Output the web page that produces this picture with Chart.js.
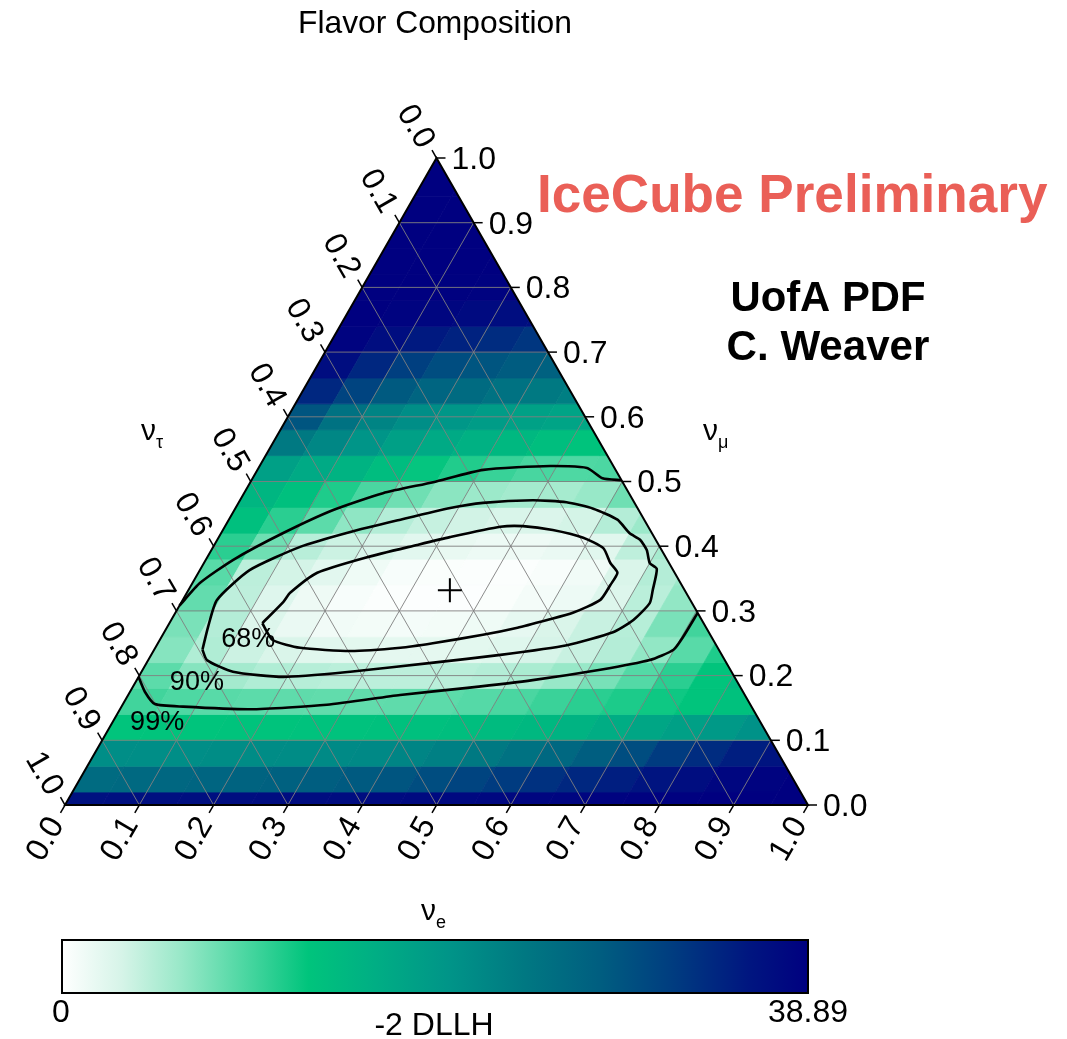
<!DOCTYPE html>
<html>
<head>
<meta charset="utf-8">
<title>Flavor Composition</title>
<script src="https://cdn.jsdelivr.net/npm/chart.js@4.4.0/dist/chart.umd.min.js"></script>
<style>
    html, body { margin: 0; padding: 0; background: #ffffff; }
    #chartWrap { position: relative; width: 1067px; height: 1039px; }
</style>
</head>
<body>
<div id="chartWrap"><canvas id="flavorChart"></canvas></div>
<script>
// nu_mu row centres of the heat map (band height 0.04), nu_e bins of 0.05
const muRows = [0.00, 0.04, 0.08, 0.12, 0.16, 0.20, 0.24, 0.28, 0.32, 0.36, 0.40, 0.44, 0.48,
    0.52, 0.56, 0.60, 0.64, 0.68, 0.72, 0.76, 0.80, 0.84, 0.88, 0.92, 0.96, 1.00];
const eBinWidth = 0.05;

// -2 DLLH per row, one value per nu_e bin (left to right)
const dllhMu00 = [36.5, 36.6, 36.7, 36.8, 36.9, 37.0, 37.1, 37.2, 37.3, 37.5, 37.6, 37.8, 38.0, 38.2, 38.4, 38.6, 38.8, 38.9, 38.9, 38.9];
const dllhMu04 = [26.0, 26.3, 26.6, 26.9, 27.2, 27.6, 28.0, 28.5, 29.0, 30.0, 31.0, 32.0, 33.0, 34.0, 35.0, 36.0, 37.0, 38.0, 38.5, 38.9];
const dllhMu08 = [21.0, 21.0, 21.0, 21.2, 21.3, 21.4, 21.6, 21.8, 22.3, 23.0, 24.0, 25.0, 26.5, 28.0, 30.0, 32.0, 33.5, 35.0, 36.0];
const dllhMu12 = [12.8, 12.8, 12.9, 13.0, 13.0, 13.1, 13.2, 13.3, 13.5, 13.8, 14.2, 14.8, 15.5, 16.5, 17.5, 18.5, 19.5, 20.5];
const dllhMu16 = [10.0, 9.4, 9.0, 8.8, 8.7, 8.6, 8.6, 8.7, 8.8, 9.1, 9.6, 10.3, 11.0, 11.6, 12.2, 12.8, 13.3, 13.8];
const dllhMu20 = [8.8, 7.0, 5.6, 5.0, 4.7, 4.5, 4.4, 4.4, 4.5, 4.8, 5.3, 6.2, 7.6, 9.2, 11.0, 12.8, 14.5];
const dllhMu24 = [7.0, 5.0, 3.6, 2.8, 2.3, 2.1, 2.0, 2.0, 2.1, 2.4, 3.0, 3.8, 4.8, 6.5, 9.0, 11.5];
const dllhMu28 = [7.5, 4.8, 2.6, 1.6, 1.1, 0.9, 0.8, 0.9, 1.2, 1.9, 2.8, 3.8, 4.7, 7.5, 10.0];
const dllhMu32 = [8.5, 4.3, 2.5, 1.3, 0.6, 0.3, 0.2, 0.2, 0.4, 0.8, 1.4, 2.6, 4.5, 6.5];
const dllhMu36 = [9.0, 4.4, 3.2, 2.2, 1.2, 0.6, 0.4, 0.3, 0.3, 0.5, 1.1, 2.8, 4.8, 6.0];
const dllhMu40 = [11.0, 8.0, 4.6, 3.6, 2.9, 2.2, 1.7, 1.4, 1.3, 1.6, 2.3, 4.3, 5.5];
const dllhMu44 = [13.5, 11.0, 8.8, 6.6, 4.8, 3.9, 3.3, 2.9, 2.7, 3.2, 4.8, 6.0];
const dllhMu48 = [15.0, 13.5, 11.5, 9.6, 8.0, 6.8, 6.0, 5.6, 5.5, 6.2, 8.0];
const dllhMu52 = [18.5, 17.0, 15.5, 14.0, 12.6, 11.4, 10.4, 9.7, 9.4, 9.5, 10.0];
const dllhMu56 = [24.0, 22.0, 20.0, 18.5, 17.0, 15.8, 14.7, 13.8, 13.0, 12.5];
const dllhMu60 = [29.0, 25.0, 22.5, 21.0, 19.8, 19.0, 18.3, 17.8, 17.3];
const dllhMu64 = [34.0, 31.0, 28.5, 27.0, 26.0, 25.0, 24.0, 23.2];
const dllhMu68 = [37.0, 34.0, 31.5, 30.0, 29.0, 28.2, 27.5];
const dllhMu72 = [38.5, 37.0, 35.5, 34.5, 33.5, 32.5];
const dllhMu76 = [38.9, 38.5, 38.0, 37.5, 37.0, 36.8];
const dllhMu80 = [38.9, 38.9, 38.8, 38.6, 38.5];
const dllhMu84 = [38.9, 38.9, 38.9, 38.9];
const dllhMu88 = [38.9, 38.9, 38.9];
const dllhMu92 = [38.9, 38.9];
const dllhMu96 = [38.9, 38.9];
const dllhMu100 = [38.9];
const dllhRows = [dllhMu00, dllhMu04, dllhMu08, dllhMu12, dllhMu16, dllhMu20, dllhMu24, dllhMu28,
    dllhMu32, dllhMu36, dllhMu40, dllhMu44, dllhMu48, dllhMu52, dllhMu56, dllhMu60, dllhMu64,
    dllhMu68, dllhMu72, dllhMu76, dllhMu80, dllhMu84, dllhMu88, dllhMu92, dllhMu96, dllhMu100];
const dllhMin = 0;
const dllhMax = 38.89;

// contours, as (nu_e, nu_mu) pairs
const contour68E = [0.125, 0.137, 0.139, 0.160, 0.215, 0.273, 0.311, 0.371, 0.401, 0.444, 0.491, 0.526, 0.547, 0.564, 0.564, 0.562, 0.535, 0.506, 0.472, 0.431, 0.370, 0.330, 0.265, 0.195, 0.152, 0.125];
const contour68Mu = [0.281, 0.314, 0.328, 0.359, 0.383, 0.402, 0.414, 0.430, 0.431, 0.425, 0.413, 0.397, 0.374, 0.359, 0.340, 0.317, 0.297, 0.286, 0.274, 0.263, 0.250, 0.243, 0.238, 0.243, 0.255, 0.281];
const contour90E = [0.065, 0.055, 0.046, 0.067, 0.117, 0.173, 0.231, 0.289, 0.329, 0.394, 0.441, 0.482, 0.523, 0.550, 0.569, 0.586, 0.600, 0.614, 0.625, 0.631, 0.622, 0.604, 0.552, 0.470, 0.386, 0.281, 0.195, 0.123, 0.079, 0.065];
const contour90Mu = [0.240, 0.275, 0.317, 0.363, 0.399, 0.422, 0.441, 0.459, 0.467, 0.471, 0.468, 0.458, 0.441, 0.420, 0.410, 0.394, 0.374, 0.365, 0.332, 0.312, 0.286, 0.267, 0.247, 0.232, 0.220, 0.206, 0.198, 0.206, 0.224, 0.240];
const contour99UpperE = [0.000, 0.010, 0.037, 0.083, 0.133, 0.187, 0.246, 0.304, 0.391, 0.442, 0.471, 0.498];
const contour99UpperMu = [0.308, 0.343, 0.379, 0.420, 0.456, 0.482, 0.499, 0.518, 0.524, 0.521, 0.505, 0.502];
const contour99LowerE = [0.703, 0.702, 0.699, 0.675, 0.616, 0.533, 0.451, 0.366, 0.275, 0.175, 0.083, 0.043, 0.020, 0.000];
const contour99LowerMu = [0.297, 0.260, 0.240, 0.224, 0.209, 0.193, 0.181, 0.170, 0.155, 0.148, 0.152, 0.156, 0.175, 0.198];
const contourLabels = ['68%', '90%', '99%'];
const contourLabelE = [0.119, 0.083, 0.060];
const contourLabelMu = [0.255, 0.189, 0.128];

const bestFitE = [0.352];
const bestFitMu = [0.332];

const tickValues = [0.0, 0.1, 0.2, 0.3, 0.4, 0.5, 0.6, 0.7, 0.8, 0.9, 1.0];
const tickLabels = ['0.0', '0.1', '0.2', '0.3', '0.4', '0.5', '0.6', '0.7', '0.8', '0.9', '1.0'];

const H = Math.sqrt(3) / 2;
const FONT = "'Liberation Sans', Arial, Helvetica, sans-serif";

const cmapStops = [
    [0.00, [255, 255, 255]],
    [0.08, [214, 244, 232]],
    [0.16, [152, 232, 200]],
    [0.24, [80, 216, 164]],
    [0.33, [0, 196, 124]],
    [0.42, [0, 174, 132]],
    [0.52, [0, 148, 136]],
    [0.62, [0, 120, 130]],
    [0.72, [0, 94, 128]],
    [0.82, [0, 60, 128]],
    [0.92, [0, 22, 128]],
    [1.00, [0, 0, 128]]
];

function cmapColor(t) {
    t = Math.max(0, Math.min(1, t));
    for (let i = 1; i < cmapStops.length; i++) {
        const a = cmapStops[i - 1], b = cmapStops[i];
        if (t <= b[0]) {
            const f = (t - a[0]) / (b[0] - a[0]);
            const c = a[1].map(function(v, j) { return Math.round(v + (b[1][j] - v) * f); });
            return 'rgb(' + c.join(',') + ')';
        }
    }
    return 'rgb(0,0,128)';
}

function ternaryPoints(eList, muList) {
    return eList.map(function(e, i) {
        return { x: e + muList[i] / 2, y: muList[i] * H };
    });
}

function fitFont(ctx, text, weight, width) {
    ctx.font = weight + ' 100px ' + FONT;
    const size = 100 * width / ctx.measureText(text).width;
    return weight + ' ' + size.toFixed(1) + 'px ' + FONT;
}

const ternaryPlugin = {
    id: 'ternaryPlugin',
    beforeDatasetsDraw: function(chart) {
        const ctx = chart.ctx;
        const xs = chart.scales.x, ys = chart.scales.y;
        const px = function(e, mu) {
            return [xs.getPixelForValue(e + mu / 2), ys.getPixelForValue(mu * H)];
        };
        const a = px(0, 0), b = px(1, 0), c = px(0, 1);

        ctx.save();
        ctx.beginPath();
        ctx.moveTo(a[0], a[1]); ctx.lineTo(b[0], b[1]); ctx.lineTo(c[0], c[1]); ctx.closePath();
        ctx.clip();

        // heat map cells (parallelograms in nu_e x nu_mu)
        dllhRows.forEach(function(values, i) {
            const lo = Math.max(0, muRows[i] - 0.02);
            const hi = Math.min(1, muRows[i] + 0.02);
            const nCols = Math.ceil((1 - lo) / eBinWidth - 1e-9);
            for (let k = 0; k < nCols; k++) {
                const v = values[Math.min(k, values.length - 1)];
                const col = cmapColor((v - dllhMin) / (dllhMax - dllhMin));
                const p1 = px(k * eBinWidth, lo), p2 = px((k + 1) * eBinWidth, lo);
                const p3 = px((k + 1) * eBinWidth, hi), p4 = px(k * eBinWidth, hi);
                ctx.beginPath();
                ctx.moveTo(p1[0], p1[1]); ctx.lineTo(p2[0], p2[1]);
                ctx.lineTo(p3[0], p3[1]); ctx.lineTo(p4[0], p4[1]);
                ctx.closePath();
                ctx.fillStyle = col;
                ctx.strokeStyle = col;
                ctx.lineWidth = 0.8;
                ctx.fill();
                ctx.stroke();
            }
        });

        // grid
        ctx.strokeStyle = 'rgba(128, 128, 128, 0.9)';
        ctx.lineWidth = 1;
        tickValues.slice(1, -1).forEach(function(v) {
            const segs = [
                [px(0, v), px(1 - v, v)],
                [px(v, 0), px(v, 1 - v)],
                [px(1 - v, 0), px(0, 1 - v)]
            ];
            segs.forEach(function(s) {
                ctx.beginPath();
                ctx.moveTo(s[0][0], s[0][1]);
                ctx.lineTo(s[1][0], s[1][1]);
                ctx.stroke();
            });
        });
        ctx.restore();
    },
    afterDatasetsDraw: function(chart) {
        const ctx = chart.ctx;
        const xs = chart.scales.x, ys = chart.scales.y;
        const px = function(e, mu) {
            return [xs.getPixelForValue(e + mu / 2), ys.getPixelForValue(mu * H)];
        };
        const a = px(0, 0), b = px(1, 0), c = px(0, 1);

        ctx.save();
        // triangle outline
        ctx.strokeStyle = '#000';
        ctx.lineWidth = 2;
        ctx.beginPath();
        ctx.moveTo(a[0], a[1]); ctx.lineTo(b[0], b[1]); ctx.lineTo(c[0], c[1]); ctx.closePath();
        ctx.stroke();

        ctx.fillStyle = '#000';
        ctx.font = '32px ' + FONT;
        ctx.lineWidth = 1.5;
        const tl = 9;
        tickValues.forEach(function(v, i) {
            // right axis: nu_mu
            let p = px(1 - v, v);
            ctx.beginPath(); ctx.moveTo(p[0], p[1]); ctx.lineTo(p[0] + tl, p[1]); ctx.stroke();
            ctx.textAlign = 'left'; ctx.textBaseline = 'middle';
            ctx.fillText(tickLabels[i], p[0] + 15, p[1] + 2);

            // bottom axis: nu_e
            p = px(v, 0);
            ctx.beginPath(); ctx.moveTo(p[0], p[1]); ctx.lineTo(p[0] - tl * 0.5, p[1] + tl * H); ctx.stroke();
            ctx.save();
            ctx.translate(p[0] - 8, p[1] + 15);
            ctx.rotate(-Math.PI / 3);
            ctx.textAlign = 'right'; ctx.textBaseline = 'middle';
            ctx.fillText(tickLabels[i], 0, 0);
            ctx.restore();

            // left axis: nu_tau
            p = px(0, 1 - v);
            ctx.beginPath(); ctx.moveTo(p[0], p[1]); ctx.lineTo(p[0] - tl * 0.5, p[1] - tl * H); ctx.stroke();
            ctx.save();
            ctx.translate(p[0] - 10, p[1] - 12);
            ctx.rotate(Math.PI / 3);
            ctx.textAlign = 'right'; ctx.textBaseline = 'middle';
            ctx.fillText(tickLabels[i], 0, 0);
            ctx.restore();
        });

        // axis names
        ctx.textAlign = 'left'; ctx.textBaseline = 'alphabetic';
        const axisName = function(x, y, sub) {
            ctx.font = '30px ' + FONT;
            ctx.fillText('\u03bd', x, y);
            ctx.font = '18px ' + FONT;
            ctx.fillText(sub, x + 15, y + 8);
        };
        axisName(141, 440, '\u03c4');
        axisName(703, 440, '\u03bc');
        axisName(421, 920, 'e');

        // contour labels
        ctx.font = '27px ' + FONT;
        ctx.textAlign = 'center'; ctx.textBaseline = 'middle';
        contourLabels.forEach(function(t, i) {
            const p = px(contourLabelE[i], contourLabelMu[i]);
            ctx.fillText(t, p[0], p[1]);
        });

        // title and annotations
        ctx.textBaseline = 'alphabetic';
        ctx.font = fitFont(ctx, 'Flavor Composition', 'normal', 274);
        ctx.fillText('Flavor Composition', 435, 33);
        ctx.textAlign = 'left';
        ctx.fillStyle = '#ea5f57';
        ctx.font = fitFont(ctx, 'IceCube Preliminary', 'bold', 511);
        ctx.fillText('IceCube Preliminary', 537, 212);
        ctx.fillStyle = '#000';
        ctx.textAlign = 'center';
        ctx.font = fitFont(ctx, 'UofA PDF', 'bold', 195);
        ctx.fillText('UofA PDF', 828, 311);
        ctx.font = fitFont(ctx, 'C. Weaver', 'bold', 203);
        ctx.fillText('C. Weaver', 828, 360);

        // colour bar
        const cbL = 62, cbR = 808, cbT = 940, cbB = 993;
        const grad = ctx.createLinearGradient(cbL, 0, cbR, 0);
        cmapStops.forEach(function(s) {
            grad.addColorStop(s[0], 'rgb(' + s[1].join(',') + ')');
        });
        ctx.fillStyle = grad;
        ctx.fillRect(cbL, cbT, cbR - cbL, cbB - cbT);
        ctx.strokeStyle = '#000';
        ctx.lineWidth = 2;
        ctx.strokeRect(cbL, cbT, cbR - cbL, cbB - cbT);
        ctx.fillStyle = '#000';
        ctx.font = '32px ' + FONT;
        ctx.textAlign = 'center';
        ctx.fillText(String(dllhMin), 61, 1022);
        ctx.textAlign = 'right';
        ctx.fillText(String(dllhMax), 848, 1022);
        ctx.textAlign = 'center';
        ctx.fillText('-2 DLLH', 434, 1035);
        ctx.restore();
    }
};

const contourStyle = {
    showLine: true,
    pointRadius: 0,
    borderColor: '#000000',
    borderWidth: 2.6,
    tension: 0.2,
    fill: false
};

new Chart(document.getElementById('flavorChart'), {
    type: 'scatter',
    data: {
        datasets: [
            Object.assign({ label: '68%', data: ternaryPoints(contour68E, contour68Mu) }, contourStyle),
            Object.assign({ label: '90%', data: ternaryPoints(contour90E, contour90Mu) }, contourStyle),
            Object.assign({ label: '99%', data: ternaryPoints(contour99UpperE, contour99UpperMu) }, contourStyle),
            Object.assign({ label: '99% low', data: ternaryPoints(contour99LowerE, contour99LowerMu) }, contourStyle),
            {
                label: 'best fit',
                data: ternaryPoints(bestFitE, bestFitMu),
                pointStyle: 'cross',
                pointRadius: 12,
                borderWidth: 2,
                borderColor: '#000000',
                backgroundColor: '#000000'
            }
        ]
    },
    options: {
        responsive: true,
        maintainAspectRatio: false,
        animation: false,
        events: [],
        layout: {
            padding: { left: 65, right: 259, top: 158, bottom: 234 }
        },
        plugins: {
            legend: { display: false },
            tooltip: { enabled: false },
            title: { display: false }
        },
        scales: {
            x: { type: 'linear', min: 0, max: 1, display: false },
            y: { type: 'linear', min: 0, max: H, display: false }
        }
    },
    plugins: [ternaryPlugin]
});
</script>
</body>
</html>
